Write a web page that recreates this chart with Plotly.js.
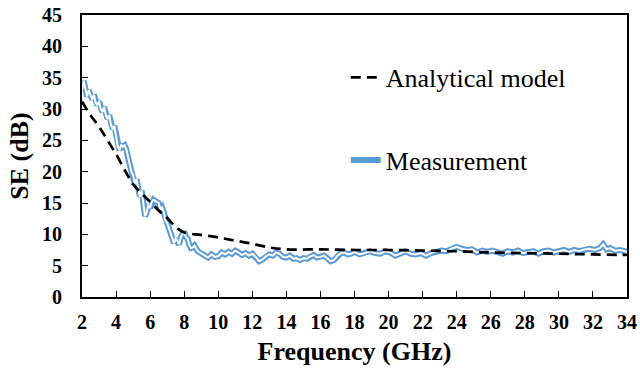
<!DOCTYPE html>
<html>
<head>
<meta charset="utf-8">
<script src="https://cdn.plot.ly/plotly-3.0.1.min.js"></script>
<style>html,body{margin:0;padding:0;background:#fff;}#chart{width:640px;height:368px;}</style>
</head>
<body>
<div id="chart"></div>
<script>
const modelFreq = [2,2.5,3,3.5,4,4.5,5,5.5,6,6.5,7,7.5,8,9,10,11,12,13,14,16,18,20,22,24,26,28,30,32,34];
const modelSE = [31.2,29,27.2,25,22.8,20.3,18,16.5,15.2,13.8,12.6,11.2,10.3,9.9,9.5,9.0,8.5,7.9,7.6,7.6,7.5,7.5,7.4,7.3,7.1,7.0,6.9,6.8,6.7];

const measFreq = [2.0,2.1,2.2,2.3,2.4,2.5,2.6,2.7,2.8,2.9,3.0,3.1,3.2,3.3,3.4,3.5,3.6,3.7,3.8,3.9,4.0,4.1,4.2,4.3,4.4,4.5,4.6,4.7,4.8,4.9,5.0,5.1,5.2,5.3,5.4,5.5,5.6,5.7,5.8,5.9,6.0,6.1,6.2,6.3,6.4,6.5,6.6,6.7,6.8,6.9,7.0,7.1,7.2,7.3,7.4,7.5,7.6,7.7,7.8,7.9,8.0,8.1,8.2,8.3,8.4,8.5,8.6,8.8,9.0,9.2,9.4,9.6,9.8,10.0,10.2,10.4,10.6,10.8,11.0,11.2,11.4,11.6,11.8,12.0,12.2,12.4,12.6,12.8,13.0,13.2,13.4,13.6,13.8,14.0,14.2,14.4,14.6,14.8,15.0,15.2,15.4,15.6,15.8,16.0,16.2,16.4,16.6,16.8,17.0,17.2,17.4,17.6,17.8,18.0,18.3,18.6,18.9,19.2,19.5,19.8,20.1,20.4,20.7,21.0,21.3,21.6,21.9,22.2,22.5,22.8,23.1,23.4,23.7,24.0,24.3,24.6,24.9,25.2,25.5,25.8,26.1,26.4,26.7,27.0,27.3,27.6,27.9,28.2,28.5,28.8,29.1,29.4,29.7,30.0,30.3,30.6,30.9,31.2,31.5,31.8,32.1,32.4,32.6,32.8,33.0,33.3,33.6,34.0];
const measSE = [33.0,34.5,33.2,32.0,33.0,32.2,31.5,32.3,31.0,30.6,31.2,30.0,29.5,30.3,29.0,28.4,29.0,27.5,26.8,27.3,25.8,24.0,23.4,24.3,24.0,24.2,23.6,22.3,21.0,20.0,19.5,18.0,18.8,17.2,16.0,17.0,14.5,12.9,13.5,14.8,14.2,15.3,15.5,15.3,15.2,15.0,14.0,14.3,13.5,12.2,11.8,11.0,10.0,9.2,8.6,9.3,9.0,8.4,9.5,10.0,10.4,9.6,9.3,8.3,7.8,7.9,8.2,7.3,7.0,6.6,6.3,6.8,6.4,6.5,7.1,6.8,7.2,6.9,7.4,7.1,6.7,7.0,6.6,6.9,6.4,5.7,6.0,6.5,6.8,6.6,7.1,6.9,6.4,6.3,6.6,6.1,6.2,5.9,6.2,6.1,6.5,6.7,6.3,6.4,6.6,6.2,5.7,5.9,6.6,7.0,7.1,6.8,6.9,7.2,6.8,7.0,7.3,7.0,6.9,7.3,7.1,6.6,7.0,7.3,6.9,6.8,7.0,6.6,7.0,7.3,7.4,7.3,7.7,8.0,7.7,7.5,7.6,7.1,7.4,7.2,7.4,7.2,6.9,7.3,7.1,7.4,7.0,7.2,7.3,6.9,7.3,7.4,7.1,7.3,7.5,7.2,7.5,7.3,7.6,7.7,7.5,7.8,8.4,7.6,7.8,7.4,7.5,7.2];

const xTicks = [2,4,6,8,10,12,14,16,18,20,22,24,26,28,30,32,34];
const yTicks = [0,5,10,15,20,25,30,35,40,45];

const FONT = 'Liberation Serif';

const traces = [
  {x: measFreq, y: measSE, type: 'scatter', mode: 'lines', name: 'Measurement',
   line: {color: '#5b9bd5', width: 6}, legendrank: 2, legendgroup: 'meas'},
  {x: measFreq, y: measSE, type: 'scatter', mode: 'lines', name: 'Measurement',
   line: {color: '#ffffff', width: 2}, showlegend: false, hoverinfo: 'skip', legendgroup: 'meas'},
  {x: modelFreq, y: modelSE, type: 'scatter', mode: 'lines', name: 'Analytical model',
   line: {color: '#000000', width: 2.7, dash: '10px,6px', shape: 'spline'}, legendrank: 1, legendgroup: 'model'}
];

const layout = {
  width: 640, height: 368,
  margin: {l: 82, r: 13, t: 15, b: 71},
  paper_bgcolor: '#ffffff', plot_bgcolor: '#ffffff',
  font: {family: FONT, color: '#000000'},
  showlegend: true,
  legend: {x: 0.484, y: 0.862, xanchor: 'left', yanchor: 'top', bgcolor: 'rgba(0,0,0,0)',
           font: {family: FONT, size: 26, color: '#000'}, tracegroupgap: 46,
           traceorder: 'grouped'},
  xaxis: {range: [2, 34], tickvals: xTicks, ticktext: xTicks.map(String),
          showgrid: false, zeroline: false, showline: true, linecolor: '#000', linewidth: 2, mirror: true,
          ticks: 'inside', ticklen: 6, tickwidth: 1, tickcolor: '#000', ticklabelstandoff: 6,
          tickfont: {family: FONT, size: 20, weight: 'bold'},
          title: {text: 'Frequency (GHz)', font: {family: FONT, size: 26, weight: 'bold'}, standoff: 10}},
  yaxis: {range: [0, 45], tickvals: yTicks, ticktext: yTicks.map(String),
          showgrid: false, zeroline: false, showline: true, linecolor: '#000', linewidth: 2, mirror: true,
          ticks: 'inside', ticklen: 6, tickwidth: 1, tickcolor: '#000', ticklabelstandoff: 14,
          tickfont: {family: FONT, size: 20, weight: 'bold'},
          title: {text: 'SE (dB)', font: {family: FONT, size: 26, weight: 'bold'}, standoff: 6}}
};

Plotly.newPlot('chart', traces, layout, {staticPlot: true, displayModeBar: false});
</script>
</body>
</html>
